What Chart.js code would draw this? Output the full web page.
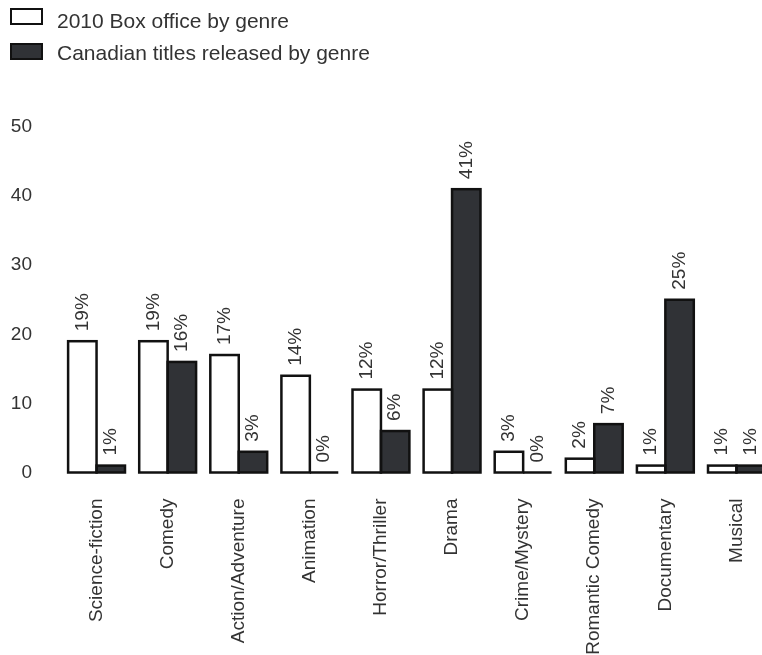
<!DOCTYPE html>
<html>
<head>
<meta charset="utf-8">
<script src="https://cdn.jsdelivr.net/npm/chart.js@4/dist/chart.umd.min.js"></script>
<style>
  html, body { margin: 0; padding: 0; width: 762px; height: 655px; overflow: hidden; background: #fff; }
  #wrap { position: absolute; left: 0; top: 0; width: 780px; height: 655px; }
  #legend { position: absolute; left: 0; top: 0; font: 21px "Liberation Sans", Arial, sans-serif; color: #333; }
  .box { position: absolute; left: 10px; width: 29px; height: 13px; border: 2px solid #111; }
  .lbl { position: absolute; left: 57px; line-height: 21px; white-space: nowrap; }
</style>
</head>
<body>
<div id="wrap"><canvas id="chart" width="780" height="655"></canvas></div>
<div id="legend"></div>
<script>
// Share of 2010 box office vs. share of Canadian titles released, by genre (percent)
const genres = ['Science-fiction', 'Comedy', 'Action/Adventure', 'Animation', 'Horror/Thriller',
                'Drama', 'Crime/Mystery', 'Romantic Comedy', 'Documentary', 'Musical'];
const boxOffice = [19, 19, 17, 14, 12, 12, 3, 2, 1, 1];
const canadianTitles = [1, 16, 3, 0, 6, 41, 0, 7, 25, 1];
const seriesNames = ['2010 Box office by genre', 'Canadian titles released by genre'];
const yTicks = [0, 10, 20, 30, 40, 50];

const FONT = '"Liberation Sans", Arial, sans-serif';
const TEXT = '#333';
const EDGE = '#111';
const fills = ['#ffffff', '#303236'];

// Bar outlines are stroked centred on each bar's edges so neighbouring bars share one line
const barOutline = {
  id: 'barOutline',
  afterDatasetsDraw(chart) {
    const ctx = chart.ctx;
    ctx.save();
    ctx.lineWidth = 2.5;
    ctx.strokeStyle = EDGE;
    chart.data.datasets.forEach((ds, i) => {
      chart.getDatasetMeta(i).data.forEach(bar => {
        const { x, y, base, width } = bar.getProps(['x', 'y', 'base', 'width'], true);
        ctx.strokeRect(x - width / 2, Math.min(y, base), width, Math.abs(base - y));
      });
    });
    ctx.restore();
  }
};

// Percentage labels written upward above each bar
const valueLabels = {
  id: 'valueLabels',
  afterDatasetsDraw(chart) {
    const ctx = chart.ctx;
    ctx.save();
    ctx.font = '19px ' + FONT;
    ctx.fillStyle = TEXT;
    ctx.textAlign = 'left';
    ctx.textBaseline = 'middle';
    chart.data.datasets.forEach((ds, i) => {
      chart.getDatasetMeta(i).data.forEach((bar, j) => {
        const { x, y } = bar.getProps(['x', 'y'], true);
        ctx.save();
        ctx.translate(x, y - 10);
        ctx.rotate(-Math.PI / 2);
        ctx.fillText(ds.data[j] + '%', 0, 0);
        ctx.restore();
      });
    });
    ctx.restore();
  }
};

const chart = new Chart(document.getElementById('chart'), {
  type: 'bar',
  data: {
    labels: genres,
    datasets: [
      { label: seriesNames[0], data: boxOffice, backgroundColor: fills[0], borderWidth: 0, clip: false },
      { label: seriesNames[1], data: canadianTitles, backgroundColor: fills[1], borderWidth: 0, clip: false }
    ]
  },
  options: {
    responsive: false,
    animation: false,
    events: [],
    layout: { padding: { top: 127, right: 8, left: 0, bottom: 0 } },
    datasets: { bar: { categoryPercentage: 0.8, barPercentage: 1.0 } },
    plugins: { legend: { display: false }, tooltip: { enabled: false } },
    scales: {
      x: {
        grid: { display: false, drawTicks: false },
        border: { display: false },
        ticks: {
          minRotation: 90, maxRotation: 90, padding: 26, autoSkip: false,
          color: TEXT, font: { family: FONT, size: 19 }
        },
        afterFit(scale) {
          scale.height = 182.5;
          scale.paddingLeft = 0;
          scale.paddingRight = 0;
        }
      },
      y: {
        min: 0, max: 50,
        grid: { display: false, drawTicks: false },
        border: { display: false },
        afterBuildTicks(scale) { scale.ticks = yTicks.map(v => ({ value: v })); },
        ticks: { padding: 29, color: TEXT, font: { family: FONT, size: 19 } },
        afterFit(scale) { scale.width = 61; }
      }
    }
  },
  plugins: [barOutline, valueLabels]
});

// Stacked legend, one series per row
const legendRows = [{ box: 8, text: 10 }, { box: 43, text: 42 }];
const legend = document.getElementById('legend');
chart.data.datasets.forEach((ds, i) => {
  const box = document.createElement('div');
  box.className = 'box';
  box.style.top = legendRows[i].box + 'px';
  box.style.background = ds.backgroundColor;
  legend.appendChild(box);
  const lbl = document.createElement('div');
  lbl.className = 'lbl';
  lbl.style.top = legendRows[i].text + 'px';
  lbl.textContent = ds.label;
  legend.appendChild(lbl);
});
</script>
</body>
</html>
